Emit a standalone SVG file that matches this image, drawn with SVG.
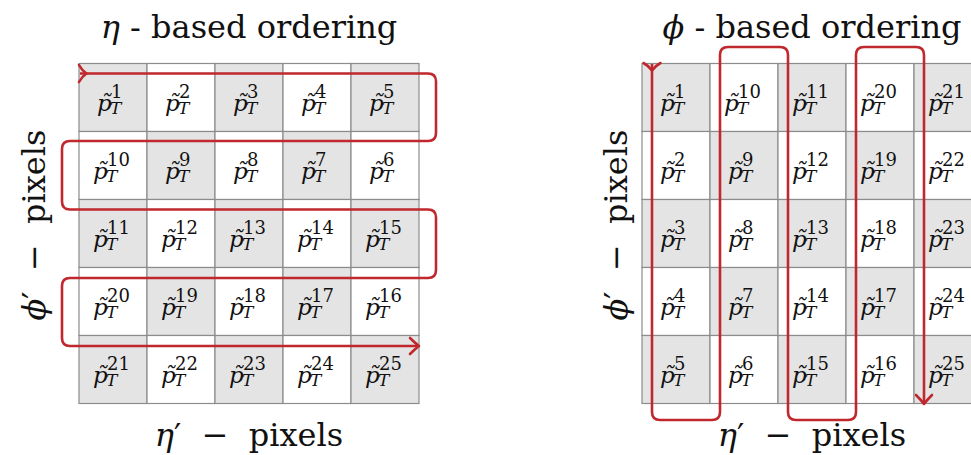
<svg xmlns="http://www.w3.org/2000/svg" width="971" height="455" viewBox="0 0 971 455">
<style>
.bg{fill:#ffffff}
.g{fill:#e4e4e4;stroke:#8c8c8c;stroke-width:1.2}
.w{fill:#ffffff;stroke:#8c8c8c;stroke-width:1.2}
.p{font-family:"DejaVu Serif",serif;font-style:italic;font-size:23px;fill:#111}
.s{font-style:normal;font-size:18px}
.t{font-style:italic;font-size:17px}
.title{font-family:"DejaVu Serif",serif;font-size:32px;fill:#111;white-space:pre}
.it{font-style:italic}
.route{fill:none;stroke:#c0282d;stroke-width:2.6;stroke-linejoin:round}
</style>
<defs>
<marker id="tail" markerUnits="userSpaceOnUse" viewBox="-12 -12 24 24" markerWidth="24" markerHeight="24" refX="0" refY="0" orient="auto">
<path d="M-1,-8.5 Q2,-3 6.5,0 Q2,3 -1,8.5" fill="none" stroke="#c0282d" stroke-width="2.6" stroke-linecap="round"/>
</marker>
<marker id="head" markerUnits="userSpaceOnUse" viewBox="-12 -12 24 24" markerWidth="24" markerHeight="24" refX="0" refY="0" orient="auto">
<path d="M-9,-8 Q-4,-3 0,0 Q-4,3 -9,8" fill="none" stroke="#c0282d" stroke-width="2.6" stroke-linecap="round" stroke-linejoin="round"/>
</marker>
</defs>
<rect class="bg" x="0" y="0" width="971" height="455"/>

<g id="left-grid">
<g id="L1"><rect class="g" x="79" y="63.5" width="68" height="68"/><text class="p" x="97" y="111">p̃<tspan class="s" x="111" y="98">1</tspan><tspan class="t" x="110" y="113.5">T</tspan></text></g>
<g id="L2"><rect class="w" x="147" y="63.5" width="68" height="68"/><text class="p" x="165" y="111">p̃<tspan class="s" x="179" y="98">2</tspan><tspan class="t" x="178" y="113.5">T</tspan></text></g>
<g id="L3"><rect class="g" x="215" y="63.5" width="68" height="68"/><text class="p" x="233" y="111">p̃<tspan class="s" x="247" y="98">3</tspan><tspan class="t" x="246" y="113.5">T</tspan></text></g>
<g id="L4"><rect class="w" x="283" y="63.5" width="68" height="68"/><text class="p" x="301" y="111">p̃<tspan class="s" x="315" y="98">4</tspan><tspan class="t" x="314" y="113.5">T</tspan></text></g>
<g id="L5"><rect class="g" x="351" y="63.5" width="68" height="68"/><text class="p" x="369" y="111">p̃<tspan class="s" x="383" y="98">5</tspan><tspan class="t" x="382" y="113.5">T</tspan></text></g>

<g id="L10"><rect class="w" x="79" y="131.5" width="68" height="68"/><text class="p" x="93" y="179">p̃<tspan class="s" x="107" y="166">10</tspan><tspan class="t" x="106" y="181.5">T</tspan></text></g>
<g id="L9"><rect class="g" x="147" y="131.5" width="68" height="68"/><text class="p" x="165" y="179">p̃<tspan class="s" x="179" y="166">9</tspan><tspan class="t" x="178" y="181.5">T</tspan></text></g>
<g id="L8"><rect class="w" x="215" y="131.5" width="68" height="68"/><text class="p" x="233" y="179">p̃<tspan class="s" x="247" y="166">8</tspan><tspan class="t" x="246" y="181.5">T</tspan></text></g>
<g id="L7"><rect class="g" x="283" y="131.5" width="68" height="68"/><text class="p" x="301" y="179">p̃<tspan class="s" x="315" y="166">7</tspan><tspan class="t" x="314" y="181.5">T</tspan></text></g>
<g id="L6"><rect class="w" x="351" y="131.5" width="68" height="68"/><text class="p" x="369" y="179">p̃<tspan class="s" x="383" y="166">6</tspan><tspan class="t" x="382" y="181.5">T</tspan></text></g>

<g id="L11"><rect class="g" x="79" y="199.5" width="68" height="68"/><text class="p" x="93" y="247">p̃<tspan class="s" x="107" y="234">11</tspan><tspan class="t" x="106" y="249.5">T</tspan></text></g>
<g id="L12"><rect class="w" x="147" y="199.5" width="68" height="68"/><text class="p" x="161" y="247">p̃<tspan class="s" x="175" y="234">12</tspan><tspan class="t" x="174" y="249.5">T</tspan></text></g>
<g id="L13"><rect class="g" x="215" y="199.5" width="68" height="68"/><text class="p" x="229" y="247">p̃<tspan class="s" x="243" y="234">13</tspan><tspan class="t" x="242" y="249.5">T</tspan></text></g>
<g id="L14"><rect class="w" x="283" y="199.5" width="68" height="68"/><text class="p" x="297" y="247">p̃<tspan class="s" x="311" y="234">14</tspan><tspan class="t" x="310" y="249.5">T</tspan></text></g>
<g id="L15"><rect class="g" x="351" y="199.5" width="68" height="68"/><text class="p" x="365" y="247">p̃<tspan class="s" x="379" y="234">15</tspan><tspan class="t" x="378" y="249.5">T</tspan></text></g>

<g id="L20"><rect class="w" x="79" y="267.5" width="68" height="68"/><text class="p" x="93" y="315">p̃<tspan class="s" x="107" y="302">20</tspan><tspan class="t" x="106" y="317.5">T</tspan></text></g>
<g id="L19"><rect class="g" x="147" y="267.5" width="68" height="68"/><text class="p" x="161" y="315">p̃<tspan class="s" x="175" y="302">19</tspan><tspan class="t" x="174" y="317.5">T</tspan></text></g>
<g id="L18"><rect class="w" x="215" y="267.5" width="68" height="68"/><text class="p" x="229" y="315">p̃<tspan class="s" x="243" y="302">18</tspan><tspan class="t" x="242" y="317.5">T</tspan></text></g>
<g id="L17"><rect class="g" x="283" y="267.5" width="68" height="68"/><text class="p" x="297" y="315">p̃<tspan class="s" x="311" y="302">17</tspan><tspan class="t" x="310" y="317.5">T</tspan></text></g>
<g id="L16"><rect class="w" x="351" y="267.5" width="68" height="68"/><text class="p" x="365" y="315">p̃<tspan class="s" x="379" y="302">16</tspan><tspan class="t" x="378" y="317.5">T</tspan></text></g>

<g id="L21"><rect class="g" x="79" y="335.5" width="68" height="68"/><text class="p" x="93" y="383">p̃<tspan class="s" x="107" y="370">21</tspan><tspan class="t" x="106" y="385.5">T</tspan></text></g>
<g id="L22"><rect class="w" x="147" y="335.5" width="68" height="68"/><text class="p" x="161" y="383">p̃<tspan class="s" x="175" y="370">22</tspan><tspan class="t" x="174" y="385.5">T</tspan></text></g>
<g id="L23"><rect class="g" x="215" y="335.5" width="68" height="68"/><text class="p" x="229" y="383">p̃<tspan class="s" x="243" y="370">23</tspan><tspan class="t" x="242" y="385.5">T</tspan></text></g>
<g id="L24"><rect class="w" x="283" y="335.5" width="68" height="68"/><text class="p" x="297" y="383">p̃<tspan class="s" x="311" y="370">24</tspan><tspan class="t" x="310" y="385.5">T</tspan></text></g>
<g id="L25"><rect class="g" x="351" y="335.5" width="68" height="68"/><text class="p" x="365" y="383">p̃<tspan class="s" x="379" y="370">25</tspan><tspan class="t" x="378" y="385.5">T</tspan></text></g>
</g>

<g id="right-grid">
<g id="R1"><rect class="g" x="642" y="63.5" width="68" height="68"/><text class="p" x="660" y="111">p̃<tspan class="s" x="674" y="98">1</tspan><tspan class="t" x="673" y="113.5">T</tspan></text></g>
<g id="R2"><rect class="w" x="642" y="131.5" width="68" height="68"/><text class="p" x="660" y="179">p̃<tspan class="s" x="674" y="166">2</tspan><tspan class="t" x="673" y="181.5">T</tspan></text></g>
<g id="R3"><rect class="g" x="642" y="199.5" width="68" height="68"/><text class="p" x="660" y="247">p̃<tspan class="s" x="674" y="234">3</tspan><tspan class="t" x="673" y="249.5">T</tspan></text></g>
<g id="R4"><rect class="w" x="642" y="267.5" width="68" height="68"/><text class="p" x="660" y="315">p̃<tspan class="s" x="674" y="302">4</tspan><tspan class="t" x="673" y="317.5">T</tspan></text></g>
<g id="R5"><rect class="g" x="642" y="335.5" width="68" height="68"/><text class="p" x="660" y="383">p̃<tspan class="s" x="674" y="370">5</tspan><tspan class="t" x="673" y="385.5">T</tspan></text></g>

<g id="R10"><rect class="w" x="710" y="63.5" width="68" height="68"/><text class="p" x="724" y="111">p̃<tspan class="s" x="738" y="98">10</tspan><tspan class="t" x="737" y="113.5">T</tspan></text></g>
<g id="R9"><rect class="g" x="710" y="131.5" width="68" height="68"/><text class="p" x="728" y="179">p̃<tspan class="s" x="742" y="166">9</tspan><tspan class="t" x="741" y="181.5">T</tspan></text></g>
<g id="R8"><rect class="w" x="710" y="199.5" width="68" height="68"/><text class="p" x="728" y="247">p̃<tspan class="s" x="742" y="234">8</tspan><tspan class="t" x="741" y="249.5">T</tspan></text></g>
<g id="R7"><rect class="g" x="710" y="267.5" width="68" height="68"/><text class="p" x="728" y="315">p̃<tspan class="s" x="742" y="302">7</tspan><tspan class="t" x="741" y="317.5">T</tspan></text></g>
<g id="R6"><rect class="w" x="710" y="335.5" width="68" height="68"/><text class="p" x="728" y="383">p̃<tspan class="s" x="742" y="370">6</tspan><tspan class="t" x="741" y="385.5">T</tspan></text></g>

<g id="R11"><rect class="g" x="778" y="63.5" width="68" height="68"/><text class="p" x="792" y="111">p̃<tspan class="s" x="806" y="98">11</tspan><tspan class="t" x="805" y="113.5">T</tspan></text></g>
<g id="R12"><rect class="w" x="778" y="131.5" width="68" height="68"/><text class="p" x="792" y="179">p̃<tspan class="s" x="806" y="166">12</tspan><tspan class="t" x="805" y="181.5">T</tspan></text></g>
<g id="R13"><rect class="g" x="778" y="199.5" width="68" height="68"/><text class="p" x="792" y="247">p̃<tspan class="s" x="806" y="234">13</tspan><tspan class="t" x="805" y="249.5">T</tspan></text></g>
<g id="R14"><rect class="w" x="778" y="267.5" width="68" height="68"/><text class="p" x="792" y="315">p̃<tspan class="s" x="806" y="302">14</tspan><tspan class="t" x="805" y="317.5">T</tspan></text></g>
<g id="R15"><rect class="g" x="778" y="335.5" width="68" height="68"/><text class="p" x="792" y="383">p̃<tspan class="s" x="806" y="370">15</tspan><tspan class="t" x="805" y="385.5">T</tspan></text></g>

<g id="R20"><rect class="w" x="846" y="63.5" width="68" height="68"/><text class="p" x="860" y="111">p̃<tspan class="s" x="874" y="98">20</tspan><tspan class="t" x="873" y="113.5">T</tspan></text></g>
<g id="R19"><rect class="g" x="846" y="131.5" width="68" height="68"/><text class="p" x="860" y="179">p̃<tspan class="s" x="874" y="166">19</tspan><tspan class="t" x="873" y="181.5">T</tspan></text></g>
<g id="R18"><rect class="w" x="846" y="199.5" width="68" height="68"/><text class="p" x="860" y="247">p̃<tspan class="s" x="874" y="234">18</tspan><tspan class="t" x="873" y="249.5">T</tspan></text></g>
<g id="R17"><rect class="g" x="846" y="267.5" width="68" height="68"/><text class="p" x="860" y="315">p̃<tspan class="s" x="874" y="302">17</tspan><tspan class="t" x="873" y="317.5">T</tspan></text></g>
<g id="R16"><rect class="w" x="846" y="335.5" width="68" height="68"/><text class="p" x="860" y="383">p̃<tspan class="s" x="874" y="370">16</tspan><tspan class="t" x="873" y="385.5">T</tspan></text></g>

<g id="R21"><rect class="g" x="914" y="63.5" width="68" height="68"/><text class="p" x="928" y="111">p̃<tspan class="s" x="942" y="98">21</tspan><tspan class="t" x="941" y="113.5">T</tspan></text></g>
<g id="R22"><rect class="w" x="914" y="131.5" width="68" height="68"/><text class="p" x="928" y="179">p̃<tspan class="s" x="942" y="166">22</tspan><tspan class="t" x="941" y="181.5">T</tspan></text></g>
<g id="R23"><rect class="g" x="914" y="199.5" width="68" height="68"/><text class="p" x="928" y="247">p̃<tspan class="s" x="942" y="234">23</tspan><tspan class="t" x="941" y="249.5">T</tspan></text></g>
<g id="R24"><rect class="w" x="914" y="267.5" width="68" height="68"/><text class="p" x="928" y="315">p̃<tspan class="s" x="942" y="302">24</tspan><tspan class="t" x="941" y="317.5">T</tspan></text></g>
<g id="R25"><rect class="g" x="914" y="335.5" width="68" height="68"/><text class="p" x="928" y="383">p̃<tspan class="s" x="942" y="370">25</tspan><tspan class="t" x="941" y="385.5">T</tspan></text></g>
</g>

<g id="connectors">
<path class="route" marker-start="url(#tail)" marker-end="url(#head)" d="M80,73.5 H428 Q436,73.5 436,81.5 V133 Q436,141 428,141 H70 Q62,141 62,149 V201.5 Q62,209.5 70,209.5 H428 Q436,209.5 436,217.5 V270 Q436,278 428,278 H70 Q62,278 62,286 V338 Q62,346 70,346 H419"/>
<path class="route" marker-start="url(#tail)" marker-end="url(#head)" d="M652,64 V412 Q652,420 660,420 H712 Q720,420 720,412 V55 Q720,47 728,47 H780 Q788,47 788,55 V412 Q788,420 796,420 H848 Q856,420 856,412 V55 Q856,47 864,47 H916 Q924,47 924,55 V404"/>
</g>

<g id="labels">
<text class="title" x="249" y="38" text-anchor="middle"><tspan class="it">η</tspan> - based ordering</text>
<text class="title" x="812" y="38" text-anchor="middle"><tspan class="it">ϕ</tspan> - based ordering</text>
<text class="title" x="249" y="446" text-anchor="middle"><tspan class="it">η</tspan>′  −  pixels</text>
<text class="title" x="812" y="446" text-anchor="middle"><tspan class="it">η</tspan>′  −  pixels</text>
<text class="title" transform="translate(45,225) rotate(-90)" text-anchor="middle"><tspan class="it">ϕ</tspan>′  −  pixels</text>
<text class="title" transform="translate(627,225) rotate(-90)" text-anchor="middle"><tspan class="it">ϕ</tspan>′  −  pixels</text>
</g>
</svg>
